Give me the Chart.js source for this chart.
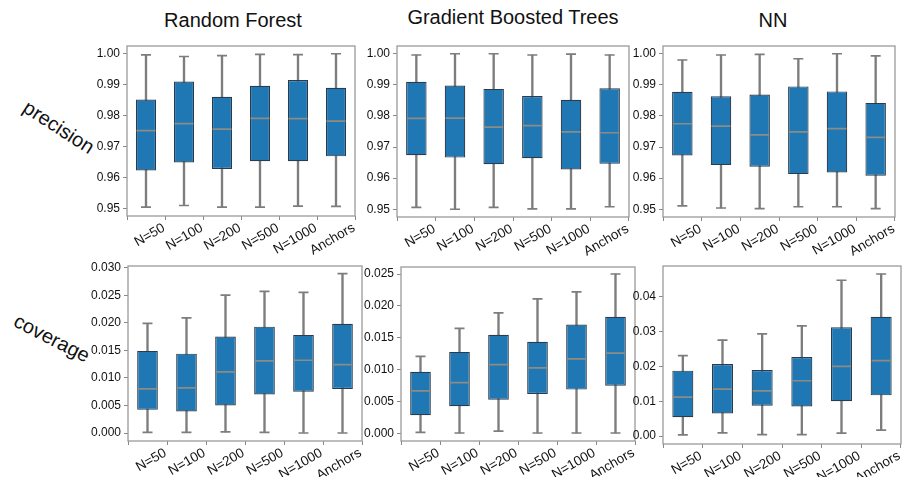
<!DOCTYPE html>
<html><head><meta charset="utf-8">
<script src="https://cdn.jsdelivr.net/npm/chart.js@4.4.0/dist/chart.umd.min.js"></script>
<style>
body{margin:0;width:902px;height:477px;position:relative;overflow:hidden;background:#fff;font-family:"Liberation Sans",Arial,sans-serif;}
canvas{position:absolute;}
.title{position:absolute;font-size:20px;line-height:1;color:#111;transform:translate(-50%,-50%);white-space:nowrap;}
.row{position:absolute;font-size:20px;line-height:1;color:#111;white-space:nowrap;}
</style></head><body>
<div class="title" style="left:233px;top:20px">Random Forest</div>
<div class="title" style="left:513px;top:17px">Gradient Boosted Trees</div>
<div class="title" style="left:773px;top:20px">NN</div>
<div class="row" style="left:59px;top:127px;transform:translate(-50%,-50%) rotate(33deg)">precision</div>
<div class="row" style="left:52px;top:338px;transform:translate(-50%,-50%) rotate(27deg)">coverage</div>
<script>
const categories = ['N=50','N=100','N=200','N=500','N=1000','Anchors'];
// each row: [whisker low, Q1, median, Q3, whisker high]
const rfPrecision = [
  [0.9504,0.9622,0.9751,0.9852,0.9996],
  [0.9509,0.9648,0.9774,0.9910,0.9991],
  [0.9504,0.9627,0.9756,0.9861,0.9994],
  [0.9504,0.9652,0.9791,0.9896,0.9998],
  [0.9507,0.9652,0.9790,0.9915,0.9997],
  [0.9506,0.9668,0.9782,0.9890,1.0000]
];
const gbtPrecision = [
  [0.9506,0.9674,0.9792,0.9910,0.9996],
  [0.9500,0.9666,0.9793,0.9898,1.0000],
  [0.9506,0.9645,0.9764,0.9887,1.0000],
  [0.9501,0.9664,0.9769,0.9864,0.9996],
  [0.9501,0.9628,0.9749,0.9852,0.9999],
  [0.9508,0.9646,0.9746,0.9889,0.9996]
];
const nnPrecision = [
  [0.9511,0.9673,0.9775,0.9878,0.9980],
  [0.9504,0.9642,0.9767,0.9863,0.9996],
  [0.9502,0.9637,0.9739,0.9869,0.9998],
  [0.9508,0.9613,0.9749,0.9895,0.9984],
  [0.9508,0.9618,0.9759,0.9879,1.0000],
  [0.9502,0.9608,0.9731,0.9842,0.9993]
];
const rfCoverage = [
  [0.0001,0.0042,0.0080,0.0149,0.0199],
  [0.0001,0.0039,0.0082,0.0144,0.0209],
  [0.0002,0.0050,0.0111,0.0175,0.0250],
  [0.0001,0.0070,0.0131,0.0193,0.0257],
  [0.0000,0.0075,0.0132,0.0178,0.0255],
  [0.0000,0.0080,0.0124,0.0198,0.0289]
];
const gbtCoverage = [
  [0.0002,0.0029,0.0067,0.0097,0.0121],
  [0.0001,0.0043,0.0080,0.0128,0.0165],
  [0.0004,0.0053,0.0108,0.0155,0.0189],
  [0.0001,0.0062,0.0103,0.0144,0.0211],
  [0.0001,0.0069,0.0117,0.0171,0.0222],
  [0.0001,0.0075,0.0126,0.0183,0.0250]
];
const nnCoverage = [
  [0.0003,0.0054,0.0112,0.0188,0.0231],
  [0.0009,0.0065,0.0135,0.0207,0.0276],
  [0.0004,0.0087,0.0130,0.0190,0.0294],
  [0.0004,0.0085,0.0159,0.0227,0.0317],
  [0.0008,0.0100,0.0200,0.0313,0.0448],
  [0.0017,0.0117,0.0217,0.0343,0.0466]
];
const precisionTicks = [0.95,0.96,0.97,0.98,0.99,1.00];
const rfCoverageTicks = [0,0.005,0.010,0.015,0.020,0.025,0.030];
const gbtCoverageTicks = [0,0.005,0.010,0.015,0.020,0.025];
const nnCoverageTicks = [0,0.01,0.02,0.03,0.04];

const FONT = '"Liberation Sans", Arial, sans-serif';
const frame = {id:'frame', afterDraw(ch){
  const {ctx, chartArea:a} = ch;
  ctx.save(); ctx.strokeStyle='#9a9a9a'; ctx.lineWidth=1.3;
  ctx.strokeRect(a.left, a.top, a.right-a.left, a.bottom-a.top);
  ctx.restore();
}};

function panel(rect, stats, range, ticks, dec){
  const [l,t,r,b] = rect;
  const PL=70, PT=4, PR=4, XH=60;
  const W=r-l+PL+PR, H=b-t+PT+XH;
  const c=document.createElement('canvas');
  c.width=W; c.height=H;
  c.style.left=(l-PL)+'px'; c.style.top=(t-PT)+'px';
  c.style.width=W+'px'; c.style.height=H+'px';
  document.body.appendChild(c);
  const whisk='#7d7d7d';
  new Chart(c,{
    type:'bar',
    data:{labels:categories, datasets:[
      {type:'bar', data:stats.map(s=>[s[0],s[4]]), backgroundColor:whisk, barThickness:1.7, grouped:false, order:4},
      {type:'bar', data:stats.map(s=>[s[1],s[3]]), backgroundColor:'#1f77b4', borderColor:'#2b3b4b', borderWidth:1.2, borderSkipped:false, barPercentage:0.53, categoryPercentage:1, grouped:false, order:3},
      {type:'line', data:stats.map(s=>s[0]), showLine:false, pointStyle:'line', pointRadius:5, pointBorderColor:whisk, pointBorderWidth:1.7, order:2},
      {type:'line', data:stats.map(s=>s[4]), showLine:false, pointStyle:'line', pointRadius:5, pointBorderColor:whisk, pointBorderWidth:1.7, order:2},
      {type:'line', data:stats.map(s=>s[2]), showLine:false, pointStyle:'line', pointRadius:9.5, pointBorderColor:'#8c8c84', pointBorderWidth:1.7, order:1}
    ]},
    options:{
      responsive:false, animation:false, devicePixelRatio:1, events:[],
      layout:{autoPadding:false, padding:{left:0,top:PT,right:PR,bottom:0}},
      plugins:{legend:{display:false}, tooltip:{enabled:false}},
      scales:{
        x:{offset:true,
           grid:{display:true, drawOnChartArea:false, drawTicks:true, tickLength:4, color:'#888'},
           border:{display:false},
           ticks:{autoSkip:false, minRotation:30, maxRotation:30, labelOffset:18, padding:0, color:'#111', font:{size:13.5, family:FONT}},
           afterFit:a=>{a.height=XH; a.paddingLeft=0; a.paddingRight=0;}},
        y:{min:range[0], max:range[1],
           grid:{display:true, drawOnChartArea:false, drawTicks:true, tickLength:4, color:'#888'},
           border:{display:false},
           ticks:{color:'#111', padding:3, font:{size:12, family:FONT}, callback:v=>Number(v).toFixed(dec)},
           afterBuildTicks:a=>{a.ticks=ticks.map(v=>({value:v}));},
           afterFit:a=>{a.width=PL; a.paddingTop=0; a.paddingBottom=0;}}
      }
    },
    plugins:[frame]
  });
}

panel([127,46,355,216], rfPrecision, [0.9475,1.0025], precisionTicks, 2);
panel([397,46,629,217], gbtPrecision, [0.9475,1.0025], precisionTicks, 2);
panel([663,46,895,217], nnPrecision, [0.9475,1.0025], precisionTicks, 2);
panel([128,266,362,441], rfCoverage, [-0.00145,0.0303], rfCoverageTicks, 3);
panel([401,267,635,441], gbtCoverage, [-0.00115,0.0261], gbtCoverageTicks, 3);
panel([663,266,901,444], nnCoverage, [-0.0023,0.0489], nnCoverageTicks, 2);
</script>
</body></html>
